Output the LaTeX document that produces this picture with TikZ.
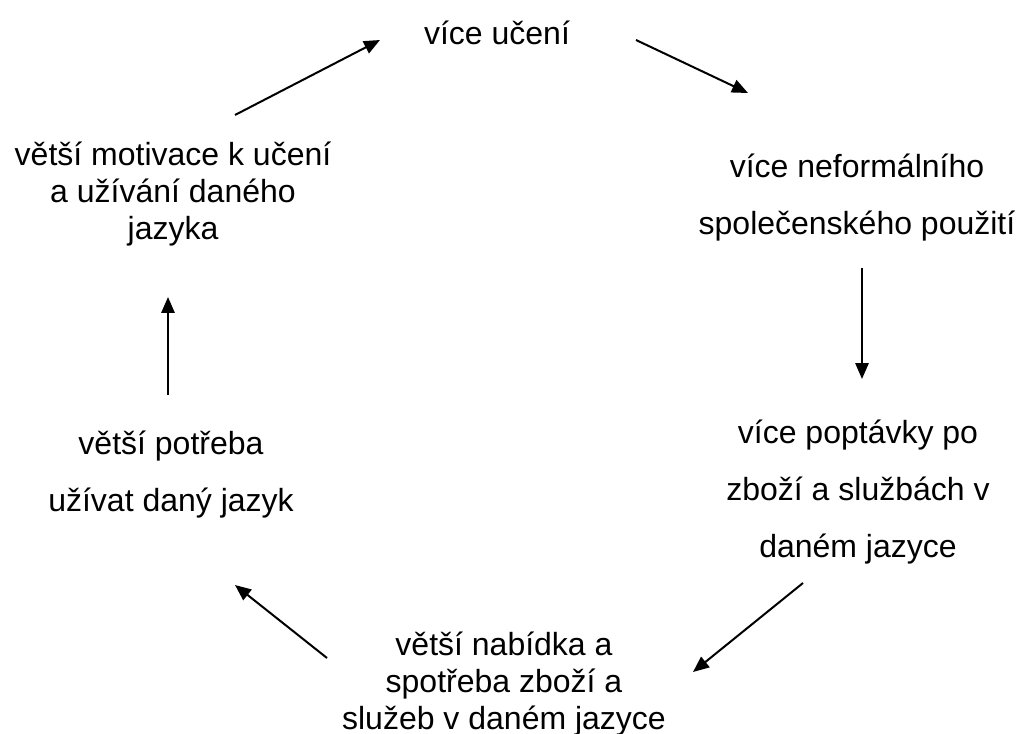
\documentclass[tikz,border=0pt]{standalone}
\usepackage{fontspec}
\setmainfont{Liberation Sans}
\usetikzlibrary{arrows.meta}
\tikzset{
  lbl/.style={align=center, inner sep=0pt, font=\fontsize{24}{27.6}\selectfont},
  lbldbl/.style={align=center, inner sep=0pt, font=\fontsize{24}{42.75}\selectfont},
  arr/.style={line width=1.5pt, -{Triangle[length=12pt,width=10pt]}}
}
\begin{document}
\begin{tikzpicture}[x=0.75pt,y=-0.75pt]
\useasboundingbox (0,0) rectangle (1021,734);
\node[lbl] (A) at (497,33) {více učení};
\node[lbldbl] (B) at (857,198) {více neformálního\\společenského použití};
\node[lbldbl] (C) at (858,492) {více poptávky po\\zboží a službách v\\daném jazyce};
\node[lbl] (D) at (504,684) {větší nabídka a\\spotřeba zboží a\\služeb v daném jazyce};
\node[lbldbl] (E) at (171,475) {větší potřeba\\užívat daný jazyk};
\node[lbl] (F) at (173,194) {větší motivace k učení\\a užívání daného\\jazyka};
\coordinate (a1) at (235,115); \coordinate (a2) at (380,40);
\coordinate (b1) at (636,40);  \coordinate (b2) at (748,93);
\coordinate (c1) at (862,268); \coordinate (c2) at (862,379);
\coordinate (d1) at (803,583); \coordinate (d2) at (693,672);
\coordinate (e1) at (327,658); \coordinate (e2) at (235,585);
\coordinate (f1) at (168,395); \coordinate (f2) at (168,297);
\draw[arr] (a1) -- (a2);
\draw[arr] (b1) -- (b2);
\draw[arr] (c1) -- (c2);
\draw[arr] (d1) -- (d2);
\draw[arr] (e1) -- (e2);
\draw[arr] (f1) -- (f2);
\end{tikzpicture}
\end{document}
